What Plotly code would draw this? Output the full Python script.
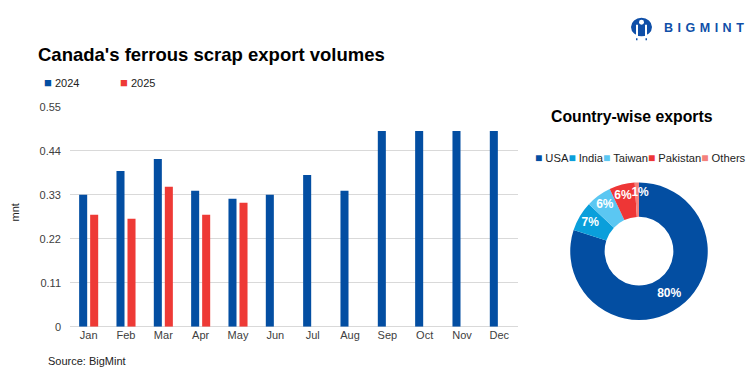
import plotly.graph_objects as go

# ---------------- data ----------------
months = ["Jan", "Feb", "Mar", "Apr", "May", "Jun", "Jul", "Aug", "Sep", "Oct", "Nov", "Dec"]
vol_2024 = [0.33, 0.39, 0.42, 0.34, 0.32, 0.33, 0.38, 0.34, 0.49, 0.49, 0.49, 0.49]
vol_2025 = [0.28, 0.27, 0.35, 0.28, 0.31, None, None, None, None, None, None, None]
series_names = ["2024", "2025"]
y_ticks = [0, 0.11, 0.22, 0.33, 0.44, 0.55]
y_tick_labels = ["0", "0.11", "0.22", "0.33", "0.44", "0.55"]

countries = ["USA", "India", "Taiwan", "Pakistan", "Others"]
country_share = [80, 7, 6, 6, 1]

# ---------------- styles ----------------
W, H = 756, 378
OFF = 8  # page body margin offset
FONT = "Liberation Sans, Arial, sans-serif"
series_colors = ["#034EA2", "#EE3A36"]
country_colors = ["#034EA2", "#0A9FDB", "#5BC7F2", "#EE3636", "#F4817C"]
GRID = "#D9D9D9"
TICK = "#404040"
LOGO = "#0F4FA8"


def px(x):
    return (x - OFF) / W


def py(y):
    return 1 - (y - OFF) / H


fig = go.Figure()

for name, vals, col in zip(series_names, [vol_2024, vol_2025], series_colors):
    fig.add_trace(go.Bar(x=months, y=vals, name=name, marker=dict(color=col, line=dict(width=0)),
                         hoverinfo="skip", showlegend=False))

label_tpl = (["<b>%{percent:.0%}</b>"] * (len(countries) - 2)
             + ["<b>%{percent:.0%}</b>&nbsp;", "&nbsp;<br>&nbsp;&nbsp;<b>%{percent:.0%}</b>"])
fig.add_trace(go.Pie(
    labels=countries, values=country_share, sort=False, direction="clockwise", rotation=0,
    hole=0.5, marker=dict(colors=country_colors, line=dict(width=0)),
    texttemplate=label_tpl, textposition="inside", insidetextorientation="horizontal",
    textfont=dict(color="white", size=12, family=FONT),
    domain=dict(x=[px(568), px(710)], y=[py(324), py(182)]),
    showlegend=False, hoverinfo="skip",
))

annotations = []
# main title
annotations.append(dict(text="<b>Canada's ferrous scrap export volumes</b>", x=px(36), y=py(50),
                        xref="paper", yref="paper", xanchor="left", yanchor="middle", showarrow=False,
                        font=dict(size=18.5, color="#000000", family=FONT)))
# bar legend
bar_leg_x = [42, 118]
for name, col, lx in zip(series_names, series_colors, bar_leg_x):
    annotations.append(dict(text=f"<span style='color:{col};font-size:13px'>■</span> {name}", x=px(lx), y=py(79),
                            xref="paper", yref="paper", xanchor="left", yanchor="middle", showarrow=False,
                            font=dict(size=11, color="#222222", family=FONT)))
# y axis unit
annotations.append(dict(text="mnt", x=px(15), y=py(213), xref="paper", yref="paper", textangle=-90,
                        xanchor="center", yanchor="middle", showarrow=False,
                        font=dict(size=11, color="#222222", family=FONT)))
# source
annotations.append(dict(text="Source: BigMint", x=px(46), y=py(366), xref="paper", yref="paper",
                        xanchor="left", yanchor="middle", showarrow=False,
                        font=dict(size=11, color="#222222", family=FONT)))
# pie title
annotations.append(dict(text="<b>Country-wise exports</b>", x=px(632), y=py(114), xref="paper", yref="paper",
                        xanchor="center", yanchor="middle", showarrow=False,
                        font=dict(size=15.8, color="#000000", family=FONT)))
# pie legend
pie_leg = "".join(f"<span style='color:{c};font-size:12px'>■</span> {n}" for n, c in zip(countries, country_colors))
annotations.append(dict(text=pie_leg, x=px(533), y=py(157), xref="paper", yref="paper",
                        xanchor="left", yanchor="middle", showarrow=False,
                        font=dict(size=11.2, color="#222222", family=FONT)))
# logo text
annotations.append(dict(text="<b><span style='letter-spacing:4.5px'>BIGMINT</span></b>", x=px(662), y=py(22),
                        xref="paper", yref="paper", xanchor="left", yanchor="middle", showarrow=False,
                        font=dict(size=12.5, color=LOGO, family=FONT)))

shapes = [
    dict(type="circle", xref="paper", yref="paper", x0=px(631), x1=px(652), y0=py(31), y1=py(12),
         fillcolor=LOGO, line=dict(width=0)),
    dict(type="rect", xref="paper", yref="paper", x0=px(636), x1=px(638), y0=py(32), y1=py(19),
         fillcolor="white", line=dict(width=0)),
    dict(type="rect", xref="paper", yref="paper", x0=px(645), x1=px(647), y0=py(32), y1=py(19),
         fillcolor="white", line=dict(width=0)),
    dict(type="circle", xref="paper", yref="paper", x0=px(639), x1=px(644), y0=py(19), y1=py(14),
         fillcolor="white", line=dict(width=0)),
    dict(type="rect", xref="paper", yref="paper", x0=px(636), x1=px(637.5), y0=py(35), y1=py(33),
         fillcolor=LOGO, line=dict(width=0)),
    dict(type="rect", xref="paper", yref="paper", x0=px(645.5), x1=px(647), y0=py(35), y1=py(33),
         fillcolor=LOGO, line=dict(width=0)),
]

fig.update_layout(
    width=W, height=H, margin=dict(l=0, r=0, t=0, b=0),
    paper_bgcolor="white", plot_bgcolor="white",
    barmode="group", bargap=0.41, bargroupgap=0.27,
    font=dict(family=FONT, size=11, color=TICK),
    xaxis=dict(domain=[px(70), px(518)], showgrid=False, showline=False, zeroline=False,
               tickfont=dict(size=11, color=TICK, family=FONT), ticks=""),
    yaxis=dict(domain=[py(331), py(104)], range=[0, 0.55], tickvals=y_ticks, ticktext=y_tick_labels,
               showgrid=True, gridcolor=GRID, gridwidth=1, zeroline=True, zerolinecolor=GRID,
               zerolinewidth=1, showline=False, ticks="", ticklabelstandoff=8,
               tickfont=dict(size=11, color=TICK, family=FONT)),
    uniformtext=dict(minsize=12, mode="show"),
    annotations=annotations, shapes=shapes,
)

fig.write_html("out.html")
